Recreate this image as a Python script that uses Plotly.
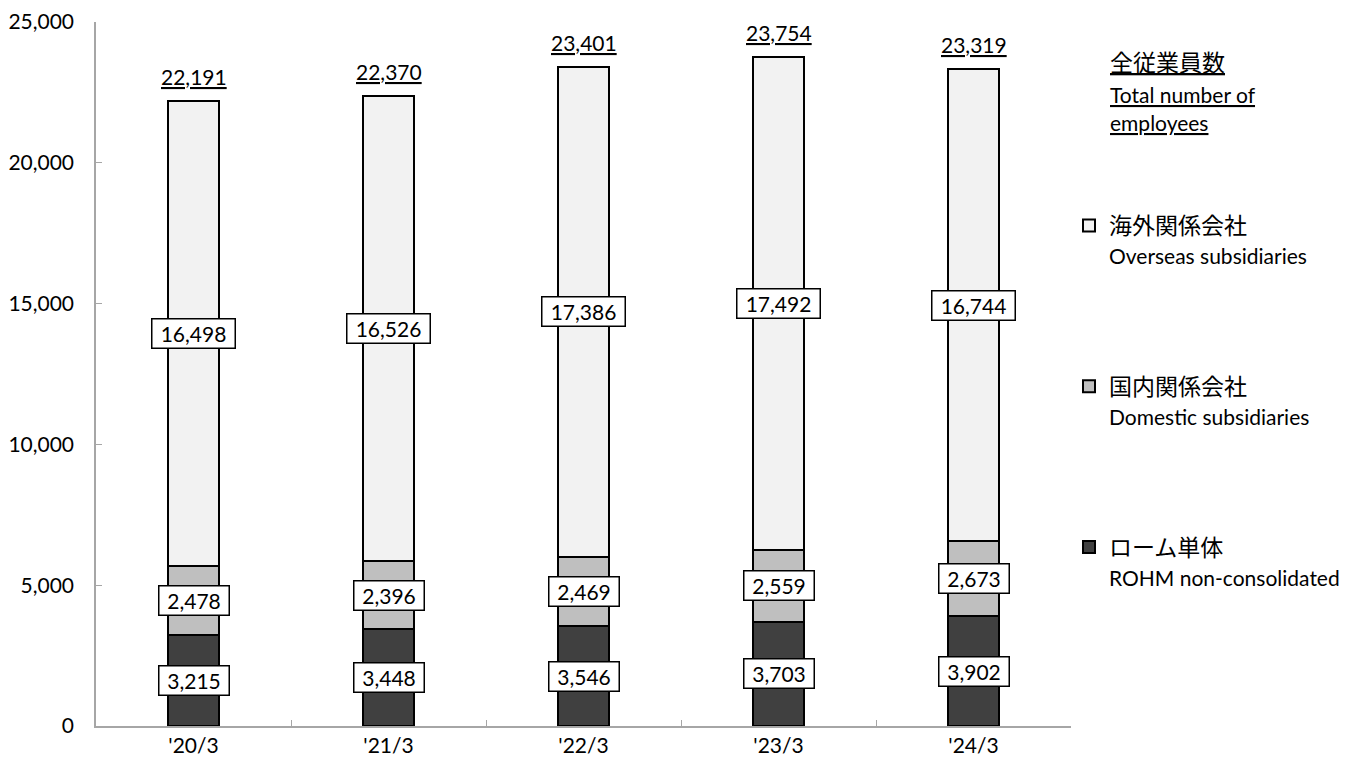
import plotly.graph_objects as go

categories = ["'20/3", "'21/3", "'22/3", "'23/3", "'24/3"]
rohm = [3215, 3448, 3546, 3703, 3902]
domestic = [2478, 2396, 2469, 2559, 2673]
overseas = [16498, 16526, 17386, 17492, 16744]
totals = [22191, 22370, 23401, 23754, 23319]

FONT = "Lato, 'Noto Sans CJK JP', sans-serif"
FS = 21
JFS = 23
OFF = 8  # page body margin
W, H = 1358, 770
# plot area in page pixels: x 96..1071, y 22..726
L, T = 96 - OFF, 22 - OFF
PW, PH = 975, 704
R = W - L - PW
B = H - T - PH

def px(x):
    return (x - 96) / PW

def py(y):
    return (726 - y) / PH

def en(s):
    return f"<span style='font-size:{FS}px'>{s}</span>"

fig = go.Figure()
series = [
    ("ローム単体<br>" + en("ROHM non-consolidated"), rohm, "#404040", 3),
    ("国内関係会社<br>" + en("Domestic subsidiaries"), domestic, "#bfbfbf", 2),
    ("海外関係会社<br>" + en("Overseas subsidiaries"), overseas, "#f2f2f2", 1),
]
for i, (name, vals, col, rank) in enumerate(series):
    fig.add_trace(go.Bar(
        x=categories, y=vals, name=name, marker_color=col,
        marker_line_color="black", marker_line_width=2,
        width=0.26, legendgroup=f"g{i}", legendrank=rank, hoverinfo="skip",
    ))

annotations = []
for j, c in enumerate(categories):
    base = 0
    for name, vals, col, rank in series:
        v = vals[j]
        t = f"{v:,}"
        annotations.append(dict(
            x=c, y=base + v / 2, xref="x", yref="y", text=t,
            showarrow=False, bgcolor="white", bordercolor="black", borderwidth=1.5,
            borderpad=2, width=13 * len(t), height=24,
            font=dict(size=FS, color="black", family=FONT),
        ))
        base += v
    annotations.append(dict(
        x=c, y=totals[j], xref="x", yref="y", text=f"<u>{totals[j]:,}</u>",
        showarrow=False, yanchor="bottom", yshift=10,
        font=dict(size=FS, color="black", family=FONT),
    ))

for txt, yy, fs in [("<u>全従業員数</u>", 62, JFS), ("<u>Total number of</u>", 94, FS), ("<u>employees</u>", 122, FS)]:
    annotations.append(dict(
        x=px(1108), y=py(yy), xref="paper", yref="paper", text=txt,
        showarrow=False, xanchor="left", yanchor="middle",
        font=dict(size=fs, color="black", family=FONT),
    ))

fig.update_layout(
    width=W, height=H,
    barmode="stack",
    annotations=annotations,
    plot_bgcolor="white", paper_bgcolor="white",
    margin=dict(l=L, r=R, t=T, b=B, autoexpand=False),
    font=dict(family=FONT, size=FS, color="black"),
    showlegend=True,
    legend=dict(
        traceorder="grouped", tracegroupgap=98, valign="top",
        x=px(1069), y=py(204),
        xanchor="left", yanchor="top", font=dict(size=JFS, family=FONT),
        bgcolor="rgba(0,0,0,0)", itemclick=False,
    ),
    xaxis=dict(
        type="category", showline=True, linecolor="#a6a6a6", linewidth=1.5,
        ticks="inside", tickson="boundaries", ticklen=6, tickcolor="#a6a6a6",
        tickfont=dict(size=FS, family=FONT), showgrid=False, zeroline=False,
        automargin=False,
    ),
    yaxis=dict(
        range=[0, 25000], dtick=5000, tickformat=",", showline=True,
        linecolor="#a6a6a6", linewidth=1.5, ticks="inside", ticklen=6,
        tickcolor="#a6a6a6", showgrid=False, zeroline=False,
        tickfont=dict(size=FS, family=FONT), ticklabelstandoff=16,
        automargin=False, ticklabeloverflow="allow",
    ),
)

fig.write_html("out.html")
